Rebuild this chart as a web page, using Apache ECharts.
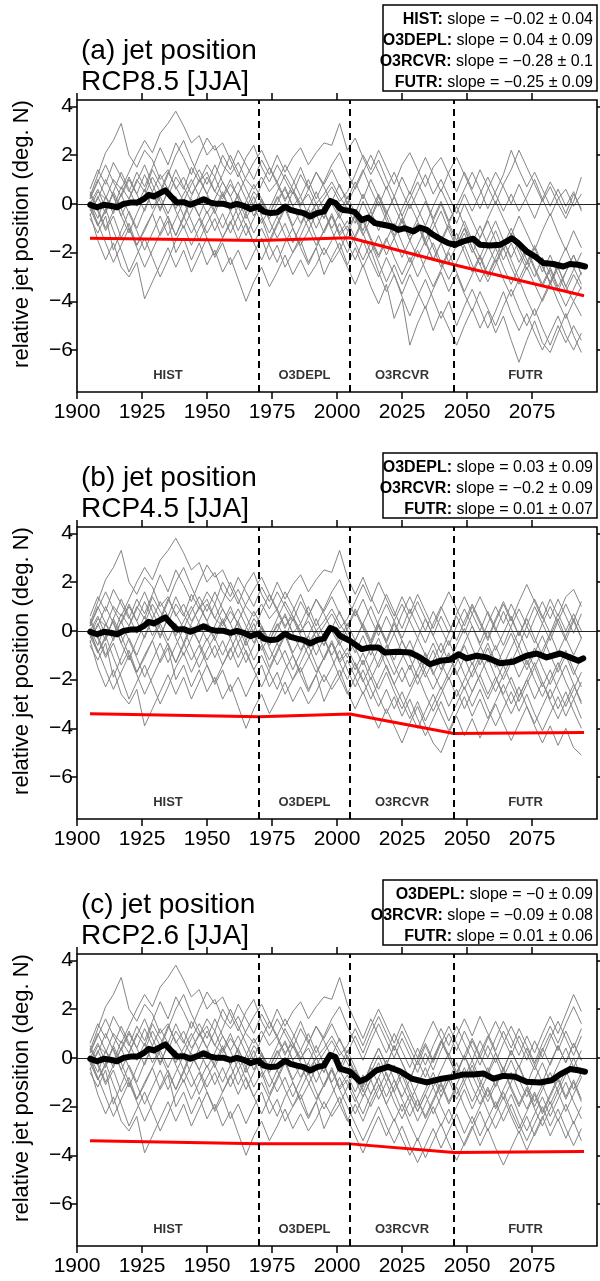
<!DOCTYPE html>
<html>
<head>
<meta charset="utf-8">
<script src="https://cdn.jsdelivr.net/npm/echarts@6/dist/echarts.min.js"></script>
<style>
  html, body { margin: 0; padding: 0; background: #fff; }
  #chart { width: 600px; height: 1281px; }
</style>
</head>
<body>
<div id="chart"></div>
<script>
// years of the ensemble members (3-yearly samples)
const histYears = [1905, 1908, 1911, 1914, 1917, 1920, 1923, 1926, 1929, 1932, 1935, 1938, 1941, 1944, 1947, 1950, 1953,
  1956, 1959, 1962, 1965, 1968, 1971, 1974, 1977, 1980, 1983, 1986, 1989, 1992, 1995, 1998, 2001, 2004]
const futYears = [2007, 2010, 2013, 2016, 2019, 2022, 2025, 2028, 2031, 2034, 2037, 2040, 2043, 2046, 2049, 2052, 2055,
  2058, 2061, 2064, 2067, 2070, 2073, 2076, 2079, 2082, 2085, 2088, 2091, 2094]

// historical part of each member (same in all three scenarios)
const histRuns = [
  [0.3, 1.2, 2.1, 2.6, 3.3, 2.0, 1.5, 2.2, 1.8, 1.0, 1.4, 0.6, 1.1, 0.4, 0.9, 1.3, 0.5, 0.2, 0.8, 0.3, -0.2, 0.5, 0.1, -0.4, 0.2, 0.6, -0.1, 0.3, -0.5, 0.0, 0.4, 0.9, 0.3, -0.2],
  [-0.2, 0.5, 0.2, 1.0, 0.6, 1.3, 2.0, 2.6, 2.1, 2.9, 3.3, 3.8, 3.2, 2.5, 2.8, 2.0, 2.4, 1.6, 1.2, 1.7, 1.0, 0.6, 1.1, 0.5, 0.9, 0.2, 0.6, 0.0, 0.4, -0.3, 0.2, 0.7, 0.1, 0.5],
  [0.1, -0.6, 0.3, -0.2, 0.7, 0.2, 1.0, 0.5, 1.4, 0.8, 0.3, 1.1, 0.6, 1.5, 0.9, 1.6, 1.1, 2.0, 1.4, 2.2, 1.6, 1.0, 1.8, 1.2, 2.0, 1.3, 1.9, 2.3, 1.6, 2.1, 2.5, 2.4, 3.3, 2.2],
  [-0.4, -1.5, -2.3, -1.6, -2.6, -3.0, -2.4, -3.9, -3.2, -2.5, -1.8, -2.6, -1.9, -2.8, -2.1, -1.4, -2.2, -1.6, -2.5, -1.9, -2.7, -2.0, -1.4, -2.3, -1.7, -2.6, -2.0, -1.5, -2.4, -1.8, -2.9, -2.2, -1.6, -2.5],
  [0.4, -0.3, -1.1, -0.5, -1.4, -0.8, -1.7, -1.0, -0.4, -1.3, -0.7, -2.0, -1.4, -2.3, -1.6, -2.5, -1.9, -2.8, -2.2, -3.1, -4.0, -3.2, -2.6, -3.4, -2.8, -2.1, -2.9, -2.3, -3.0, -2.5, -1.8, -2.4, -1.9, -2.6],
  [0.6, 1.4, 0.8, 1.7, 1.1, 0.5, 1.3, 0.7, 1.5, 2.3, 1.6, 2.5, 1.9, 1.2, 2.0, 2.7, 2.2, 2.5, 1.8, 1.1, 1.9, 2.4, 1.5, 0.9, 1.6, 1.0, 0.4, 1.2, 0.6, 1.3, 0.8, 1.4, 0.7, 0.2],
  [-0.6, -1.2, -0.5, -1.9, -1.1, -0.3, -1.0, -0.2, 0.5, -0.3, 0.6, 1.4, 0.7, 0.1, -0.5, 0.3, -0.4, 0.4, -0.3, -1.1, -0.4, -1.2, -0.6, -1.5, -0.8, -0.1, -0.9, -0.3, -1.0, -1.7, -1.1, -0.4, -1.2, -0.7],
  [0.2, 0.9, 1.6, 0.9, 0.3, 1.0, 0.4, -0.3, 0.5, 1.2, 0.6, -0.2, 0.4, 1.0, 0.3, -0.4, 0.2, 0.9, 0.3, -0.5, 0.1, 0.8, 0.2, -0.6, 0.0, 0.7, -0.1, -0.8, -0.2, 0.5, -0.3, -1.0, -0.4, 0.3],
  [-0.1, -0.8, -1.6, -2.4, -1.7, -1.0, -1.8, -2.6, -1.9, -1.2, -0.5, -1.3, -0.6, 0.2, -0.5, -1.2, -0.6, -1.4, -0.8, -0.1, -0.9, -1.6, -1.0, -1.7, -2.4, -1.6, -1.0, -1.8, -2.5, -1.8, -1.1, -0.5, -1.3, -0.9],
  [0.0, 0.6, -0.2, 0.4, -0.5, -1.2, -0.4, 0.3, 1.1, 0.5, 1.3, 0.7, 0.1, 0.8, 1.4, 0.8, 1.6, 0.9, 0.3, 0.9, 0.2, -0.5, 0.2, -0.4, 0.3, -0.3, 0.5, -0.2, -0.7, 0.0, -0.6, 0.2, -0.5, -1.1],
  [-0.3, 0.2, 1.0, 0.3, -0.5, 0.2, 0.9, 1.6, 0.8, 0.1, -0.6, -1.3, -0.5, 0.3, 1.0, 0.4, -0.3, -1.0, -0.3, 0.4, 1.1, 1.7, 2.2, 1.5, 0.8, 0.1, 0.8, 1.5, 0.7, 0.0, -0.6, 0.1, 0.8, 0.0],
  [0.5, -0.2, -1.0, -0.3, 0.4, -0.4, -1.1, -1.9, -1.2, -0.5, -1.3, -0.6, 0.1, -0.7, -1.5, -0.8, -0.2, 0.5, -0.3, 0.4, -0.4, 0.3, -0.5, -1.2, -0.5, -1.3, -2.0, -1.3, -0.6, -1.4, -2.1, -1.5, -0.8, -1.6],
  [-0.5, 0.3, -0.4, 0.5, 1.3, 0.6, -0.1, 0.6, -0.2, 0.4, 1.2, 2.0, 2.6, 1.8, 1.1, 0.4, 1.1, 0.3, 1.0, 0.2, -0.6, 0.0, 0.8, 1.5, 0.9, 1.6, 1.0, 0.3, 1.0, 0.2, 0.9, 1.6, 2.1, 1.3],
  [0.1, -0.9, -0.2, -1.1, -1.9, -2.8, -2.1, -1.4, -2.2, -3.0, -2.3, -1.5, -0.9, -1.7, -1.0, -0.3, -1.1, -0.4, -1.2, -0.5, -1.3, -0.6, 0.1, -0.7, -1.4, -0.8, -1.6, -0.9, -0.2, -1.0, -0.3, -1.1, -1.9, -1.2],
  [0.2, 1.0, 0.3, -0.4, 0.4, 1.1, 0.4, 1.2, 0.5, -0.2, 0.5, -0.3, -1.0, -0.3, 0.4, 1.1, 0.5, 1.2, 2.0, 1.3, 0.6, -0.1, -0.8, -0.2, 0.5, 1.2, 0.6, -0.1, 0.6, 1.3, 0.7, 0.0, -0.6, 0.1],
  [-0.2, -0.9, -0.3, 0.5, -0.2, -1.0, -1.7, -1.1, -0.4, 0.3, -0.4, 0.3, -0.5, -1.2, -0.6, -1.4, -2.1, -1.4, -0.7, -1.5, -0.8, -1.6, -2.3, -1.6, -0.9, -0.2, -1.0, -1.7, -1.1, -0.4, -1.2, -0.5, -1.3, -2.0]
]

// future part of each member, one list per scenario
const rcp85Runs = [
  [-0.8, 0.1, -0.6, 0.3, -0.5, -1.3, -0.6, -1.5, -0.8, -1.7, -1.0, -0.3, -1.1, -1.8, -1.2, -2.0, -1.4, -0.7, -1.5, -2.3, -1.6, -2.4, -1.8, -2.6, -3.3, -2.6, -3.4, -2.8, -2.1, -2.9],
  [1.2, 2.0, 1.4, 2.2, 1.5, 0.8, 1.6, 2.1, 1.4, 0.7, 1.5, 1.9, 1.2, 0.5, 1.3, 0.6, 1.4, 0.7, 0.0, 0.8, 1.4, 2.2, 1.5, 0.8, 0.1, 0.7, 0.0, -0.6, 0.1, 1.1],
  [2.7, 1.9, 1.2, 1.8, 1.0, 0.3, 1.1, 0.4, 1.2, 1.9, 1.2, 0.5, 1.3, 1.9, 1.2, 0.5, -0.2, 0.6, 1.3, 0.7, 0.0, 0.8, 0.1, -0.6, 0.2, 0.9, 0.3, -0.4, 0.4, -0.2],
  [-1.8, -2.6, -1.9, -2.8, -3.6, -2.9, -3.8, -4.6, -3.8, -3.1, -3.9, -4.7, -4.0, -5.0, -4.2, -3.5, -4.3, -5.1, -4.4, -3.6, -4.5, -5.2, -4.5, -5.3, -6.0, -5.3, -4.6, -5.4, -6.0, -5.3],
  [-3.3, -2.5, -3.4, -4.1, -3.3, -4.7, -3.9, -5.8, -4.9, -4.2, -5.2, -4.4, -5.1, -5.8, -5.0, -4.3, -5.1, -4.4, -5.3, -4.6, -5.6, -6.5, -5.6, -4.8, -5.7, -6.1, -5.3, -4.5, -5.4, -6.1],
  [0.9, 0.2, 1.0, 0.3, -0.4, 0.3, -0.5, 0.2, 0.9, 0.2, -0.6, 0.1, -0.7, -0.1, 0.6, 1.3, 0.6, -0.2, 0.5, 1.2, 2.2, 1.4, 0.7, 1.3, 0.6, -0.1, 0.6, -0.1, 0.5, -0.3],
  [-1.4, -0.7, -1.5, -2.2, -1.5, -0.8, -1.6, -2.4, -1.7, -1.0, -1.8, -2.6, -1.9, -1.2, -2.0, -2.8, -2.1, -2.9, -2.2, -1.5, -2.3, -3.1, -2.4, -1.7, -2.5, -3.3, -2.6, -3.4, -2.7, -2.0],
  [-0.4, 0.4, -0.3, -1.1, -0.4, 0.3, -0.5, -1.3, -0.6, 0.1, -0.7, -1.5, -0.8, -0.1, -0.9, -1.6, -0.9, -1.7, -2.4, -1.7, -1.0, -1.8, -2.5, -1.8, -2.6, -3.2, -2.5, -1.8, -2.6, -3.3],
  [-1.6, -2.3, -1.6, -2.4, -3.2, -2.5, -3.3, -2.6, -1.9, -2.7, -3.4, -2.7, -2.0, -2.8, -3.6, -2.9, -2.2, -3.0, -2.3, -3.1, -3.8, -3.1, -3.9, -4.6, -3.9, -3.2, -4.0, -4.7, -4.0, -4.6],
  [-0.4, -1.1, -0.3, 0.4, -0.3, -1.0, -0.2, 0.5, -0.2, -0.9, -0.1, 0.6, -0.1, -0.8, 0.0, -0.7, -1.4, -0.6, 0.1, -0.6, -1.3, -0.5, -1.2, -1.9, -1.1, -0.4, -1.2, -1.9, -1.1, -1.8],
  [0.7, 1.4, 0.6, -0.1, 0.7, -0.1, -0.8, 0.0, -0.7, -1.5, -0.7, 0.0, -0.8, -1.5, -0.7, -1.5, -2.2, -1.4, -0.7, -1.5, -2.2, -1.5, -2.3, -3.0, -2.2, -2.9, -3.6, -2.8, -2.1, -2.9],
  [-2.3, -1.5, -2.3, -3.0, -2.2, -2.9, -3.7, -2.9, -3.6, -4.3, -3.5, -2.8, -3.6, -2.9, -3.7, -4.4, -3.6, -4.3, -5.0, -4.2, -3.5, -4.3, -5.0, -4.3, -5.1, -5.8, -5.0, -5.7, -5.0, -5.6],
  [0.6, 1.3, 2.0, 1.3, 0.6, 1.3, 0.5, -0.2, 0.5, 1.2, 0.4, 1.0, 0.3, -0.4, 0.4, -0.3, 0.4, 1.1, 0.4, -0.3, 0.4, -0.3, 0.3, 1.0, 0.2, -0.5, 0.2, 0.6, -0.1, 0.4],
  [-0.5, -1.2, -2.0, -1.3, -2.1, -1.4, -0.7, -1.5, -2.2, -1.5, -2.3, -1.6, -0.9, -1.7, -1.0, -1.8, -2.5, -1.8, -1.1, -1.9, -1.2, -2.0, -2.7, -2.0, -2.8, -2.1, -2.9, -3.6, -2.9, -3.5],
  [-0.6, -1.3, -0.6, 0.1, -0.7, -1.4, -2.2, -1.5, -0.8, -1.6, -2.3, -1.6, -2.4, -1.7, -1.0, -1.8, -2.5, -3.2, -2.5, -1.8, -2.6, -3.3, -2.6, -3.3, -4.0, -3.3, -2.6, -3.4, -4.0, -3.4],
  [-1.3, -0.6, -1.4, -2.1, -1.4, -2.2, -2.9, -2.2, -3.0, -2.3, -1.6, -2.4, -3.1, -2.4, -1.7, -2.5, -3.2, -2.5, -1.8, -2.6, -3.3, -2.6, -1.9, -2.7, -3.4, -2.7, -3.5, -4.2, -3.5, -2.8]
]
const rcp45Runs = [
  [-0.9, -0.2, -1.0, -0.3, -1.1, -1.8, -1.1, -0.4, -1.2, -1.9, -1.2, -0.5, -1.3, -0.6, 0.1, -0.7, -1.4, -0.7, -1.5, -0.8, -0.1, -0.9, -1.6, -0.9, -0.2, -1.0, -1.7, -1.0, -1.8, -1.1],
  [1.2, 1.9, 1.2, 2.0, 1.3, 0.6, 1.4, 0.7, 1.5, 0.8, 0.1, 0.9, 1.6, 0.9, 0.2, 1.0, 0.3, -0.4, 0.4, 1.1, 0.4, 1.2, 1.9, 1.2, 0.5, 1.3, 0.6, 1.4, 1.7, 1.0],
  [1.5, 2.2, 1.4, 0.7, 1.5, 0.8, 0.1, 0.9, 0.2, -0.5, 0.3, 1.0, 0.3, -0.4, 0.4, 1.1, 0.4, -0.3, 0.5, 1.2, 0.5, -0.2, 0.6, 1.3, 0.6, -0.1, 0.7, 0.0, 0.7, 0.0],
  [-3.2, -2.5, -3.3, -4.0, -3.2, -3.9, -4.6, -3.8, -3.1, -3.9, -4.6, -5.0, -4.2, -3.5, -4.3, -3.6, -4.4, -3.7, -3.0, -3.8, -4.5, -3.8, -3.1, -3.9, -4.6, -3.9, -4.7, -4.0, -4.8, -5.1],
  [-1.9, -2.6, -1.9, -2.7, -3.4, -2.7, -3.5, -2.8, -3.6, -4.3, -3.6, -2.9, -3.7, -3.0, -2.3, -3.1, -2.4, -3.2, -3.9, -3.2, -2.5, -3.3, -2.6, -3.4, -4.1, -3.4, -2.7, -3.5, -2.8, -3.6],
  [0.9, 0.2, -0.5, 0.3, -0.4, 0.4, 1.1, 0.4, -0.3, 0.5, -0.2, -0.9, -0.1, 0.6, -0.1, 0.7, 1.4, 0.7, 0.0, 0.8, 0.1, -0.6, 0.2, -0.5, 0.3, 1.0, 0.3, -0.4, 0.4, -0.3],
  [-1.4, -2.1, -1.4, -0.7, -1.5, -2.2, -1.5, -2.3, -1.6, -0.9, -1.7, -2.4, -1.7, -1.0, -1.8, -2.5, -1.8, -1.1, -1.9, -2.6, -1.9, -2.7, -2.0, -1.3, -2.1, -2.8, -2.1, -1.4, -2.2, -2.9],
  [-0.4, 0.3, 1.0, 0.2, -0.5, 0.3, -0.4, -1.1, -0.3, -1.0, -1.8, -1.1, -0.4, -1.2, -0.5, 0.2, -0.6, -1.3, -0.6, -1.4, -0.7, 0.0, -0.8, -1.5, -0.8, -0.1, -0.9, -0.2, 0.5, -0.3],
  [-1.6, -0.9, -1.7, -2.4, -1.7, -2.5, -3.2, -2.5, -1.8, -2.6, -3.3, -2.6, -1.9, -2.7, -2.0, -1.3, -2.1, -2.8, -2.1, -1.4, -2.2, -2.9, -2.2, -1.5, -2.3, -1.6, -2.4, -3.1, -2.4, -1.7],
  [-0.4, 0.3, -0.4, 0.4, 1.1, 0.4, -0.3, 0.5, 1.2, 0.5, -0.2, 0.6, -0.1, 0.7, 1.4, 0.7, 0.0, 0.8, 0.1, -0.6, 0.2, 0.9, 0.2, 1.0, 0.3, -0.4, 0.4, 1.1, 0.4, 1.2],
  [-0.7, -1.4, -0.7, -1.5, -0.8, -0.1, -0.9, -1.6, -0.9, -1.7, -2.4, -1.7, -1.0, -1.8, -1.1, -1.9, -1.2, -0.5, -1.3, -2.0, -1.3, -0.6, -1.4, -0.7, -1.5, -2.2, -1.5, -0.8, -1.6, -2.3],
  [-2.3, -1.6, -2.4, -3.1, -2.4, -3.2, -2.5, -3.3, -4.0, -3.3, -2.6, -3.4, -4.1, -3.4, -2.7, -3.5, -2.8, -3.6, -2.9, -2.2, -3.0, -2.3, -3.1, -3.8, -3.1, -2.4, -3.2, -2.5, -3.3, -4.0],
  [0.6, 1.3, 0.5, -0.2, 0.6, -0.1, 0.7, 1.4, 0.7, 0.0, 0.8, 0.1, -0.6, 0.2, 0.9, 0.2, -0.5, 0.3, 1.0, 0.3, 1.1, 0.4, -0.3, 0.5, 1.2, 0.5, 1.3, 0.6, -0.1, 0.7],
  [-1.9, -1.2, -2.0, -1.3, -0.6, -1.4, -2.1, -1.4, -2.2, -1.5, -0.8, -1.6, -0.9, -1.7, -2.4, -1.7, -1.0, -1.8, -2.5, -1.8, -1.1, -1.9, -1.2, -2.0, -2.7, -2.0, -1.3, -2.1, -2.8, -2.1],
  [0.8, 0.1, -0.6, 0.2, -0.5, -1.2, -0.4, -1.1, -1.9, -1.2, -0.5, -1.3, -2.0, -1.3, -0.6, -1.4, -0.7, 0.0, -0.8, -0.1, 0.6, -0.2, 0.5, -0.3, -1.0, -0.2, 0.5, -0.3, -1.0, -0.3],
  [-1.3, -2.0, -2.8, -2.1, -1.4, -2.2, -2.9, -3.6, -2.9, -3.7, -3.0, -2.3, -3.1, -2.4, -3.2, -2.5, -1.8, -2.6, -1.9, -2.7, -3.4, -2.7, -2.0, -2.8, -2.1, -2.9, -3.6, -2.9, -2.2, -3.0]
]
const rcp26Runs = [
  [-0.9, -1.6, -0.9, -0.2, -1.0, -0.3, -1.1, -1.8, -1.1, -0.4, -1.2, -0.5, 0.2, -0.6, 0.1, -0.7, -1.4, -0.7, 0.0, -0.8, -0.1, -0.9, -1.6, -0.9, -0.2, -1.0, -0.3, 0.4, -0.4, 0.3],
  [1.2, 0.5, 1.3, 2.0, 1.3, 0.6, 1.4, 0.7, 0.0, 0.8, 1.5, 0.8, 0.1, 0.9, 1.6, 0.9, 1.7, 1.0, 0.3, 1.1, 0.4, 1.2, 0.5, -0.2, 0.6, 1.3, 0.6, 1.4, 2.1, 1.4],
  [1.5, 0.8, 1.6, 0.9, 0.2, 1.0, 0.3, -0.4, 0.4, -0.3, 0.5, 1.2, 0.5, 1.3, 0.6, -0.1, 0.7, 0.0, 0.8, 1.5, 0.8, 0.1, 0.9, 0.2, 1.0, 1.7, 1.0, 1.8, 2.6, 1.9],
  [-3.2, -3.9, -3.1, -2.4, -3.2, -2.5, -3.3, -4.0, -3.3, -4.1, -3.4, -2.7, -3.5, -4.2, -3.5, -2.8, -3.6, -2.9, -3.7, -4.4, -3.7, -3.0, -3.8, -3.1, -2.4, -3.2, -2.5, -3.3, -2.6, -3.4],
  [-1.9, -2.6, -1.8, -1.1, -1.9, -2.6, -1.9, -2.7, -3.4, -2.7, -2.0, -2.8, -2.1, -2.9, -3.6, -2.9, -2.2, -3.0, -2.3, -1.6, -2.4, -3.1, -2.4, -3.2, -2.5, -1.8, -2.6, -1.9, -2.7, -2.0],
  [0.9, 0.2, 1.0, 1.7, 1.0, 0.3, 1.1, 0.4, -0.3, 0.5, -0.2, 0.6, 1.3, 0.6, -0.1, 0.7, 0.0, 0.8, 1.5, 0.8, 0.1, 0.9, 0.2, -0.5, 0.3, 1.0, 0.3, 1.1, 0.4, 1.2],
  [-1.4, -0.7, -1.5, -0.8, -0.1, -0.9, -1.6, -0.9, -1.7, -2.4, -1.7, -1.0, -1.8, -1.1, -0.4, -1.2, -1.9, -1.2, -2.0, -1.3, -0.6, -1.4, -2.1, -1.4, -2.2, -1.5, -0.8, -1.6, -0.9, -1.7],
  [-0.4, -1.1, -0.3, 0.4, -0.3, 0.5, -0.2, -0.9, -0.1, -0.8, 0.0, 0.7, 0.0, -0.7, 0.1, -0.6, 0.2, 0.9, 0.2, -0.5, 0.3, -0.4, -1.1, -0.3, 0.4, -0.3, 0.5, -0.2, 0.6, -0.1],
  [-1.6, -2.3, -1.5, -0.8, -1.6, -0.9, -1.7, -2.4, -1.7, -2.5, -1.8, -1.1, -1.9, -1.2, -2.0, -2.7, -2.0, -1.3, -2.1, -1.4, -2.2, -2.9, -2.2, -1.5, -2.3, -1.6, -0.9, -1.7, -1.0, -1.8],
  [-1.8, -1.1, -0.3, 0.4, -0.3, 0.5, -0.2, -0.9, -0.1, 0.6, -0.1, 0.7, 0.0, -0.7, 0.1, 0.8, 0.1, -0.6, 0.2, -0.5, 0.3, -0.4, 0.4, -0.3, -1.0, -0.2, 0.5, -0.2, 0.6, -0.1],
  [-0.7, -1.4, -0.6, 0.1, -0.7, -1.4, -2.2, -1.5, -2.2, -1.5, -0.8, -1.6, -0.9, -0.2, -1.0, -0.3, -1.1, -1.8, -1.1, -0.4, -1.2, -1.9, -1.2, -2.0, -1.3, -0.6, -1.4, -0.7, 0.0, -0.8],
  [-2.3, -1.6, -0.9, -1.7, -1.0, -1.8, -2.5, -1.8, -2.6, -1.9, -1.2, -2.0, -2.7, -2.0, -1.3, -2.1, -1.4, -2.2, -2.9, -2.2, -1.5, -2.3, -3.0, -2.3, -1.6, -2.4, -1.7, -1.0, -1.8, -2.5],
  [0.6, -0.1, 0.7, 1.4, 0.7, 0.0, 0.8, 0.1, -0.6, 0.2, -0.5, 0.3, 1.0, 0.3, 1.1, 0.4, -0.3, 0.5, -0.2, 0.6, 1.3, 0.6, -0.1, 0.7, 0.0, 0.8, 1.5, 0.8, 0.1, 0.9],
  [-0.5, -1.2, -0.4, -1.1, -1.9, -1.2, -0.5, -1.3, -2.0, -1.3, -0.6, -1.4, -0.7, -1.5, -0.8, -0.1, -0.9, -1.6, -0.9, -1.7, -1.0, -0.3, -1.1, -1.8, -1.1, -1.9, -1.2, -0.5, -1.3, -0.6],
  [-0.6, -1.3, -2.0, -1.3, -0.6, -1.4, -0.7, -1.5, -2.2, -1.5, -2.3, -1.6, -0.9, -1.7, -1.0, -1.8, -1.1, -0.4, -1.2, -0.5, -1.3, -2.0, -1.3, -2.1, -2.8, -2.1, -1.4, -2.2, -1.5, -0.8],
  [-2.7, -3.4, -2.7, -2.0, -2.8, -3.5, -2.8, -3.6, -4.3, -3.6, -2.9, -3.7, -3.0, -2.3, -3.1, -2.4, -3.2, -2.5, -1.8, -2.6, -1.9, -2.7, -3.4, -2.7, -2.0, -2.8, -2.1, -2.9, -3.6, -2.9]
]

// multi-model mean [year, value]
const meanHist = [[1905.1, -0.04], [1907.7, -0.14], [1910.3, -0.04], [1912.8, -0.08], [1915.4, -0.14], [1917.9, 0.0],
  [1920.5, 0.05], [1923.1, 0.05], [1925.6, 0.19], [1927.6, 0.37], [1929.5, 0.3], [1931.4, 0.41], [1934.0, 0.55],
  [1935.9, 0.33], [1938.5, 0.05], [1941.0, 0.07], [1943.6, -0.04], [1946.2, 0.07], [1948.7, 0.19], [1951.3, 0.05],
  [1953.8, 0.0], [1956.4, 0.0], [1959.0, -0.08], [1961.5, 0.0], [1964.1, -0.08], [1966.7, -0.22], [1969.9, -0.11],
  [1971.8, -0.32], [1974.4, -0.38], [1976.9, -0.36], [1980.1, -0.11], [1982.1, -0.25], [1984.6, -0.32], [1987.2, -0.38],
  [1989.7, -0.52], [1992.3, -0.38], [1994.9, -0.32], [1997.4, 0.12], [1999.4, 0.03]]
const meanRcp85 = [[2001.3, -0.2], [2002.4, -0.25], [2005.0, -0.29], [2006.9, -0.34], [2009.5, -0.66], [2012.0, -0.56],
  [2014.6, -0.79], [2017.8, -0.86], [2021.0, -0.93], [2023.6, -1.07], [2026.1, -1.0], [2029.4, -1.13], [2031.9, -0.97],
  [2034.5, -1.07], [2037.0, -1.27], [2040.3, -1.48], [2042.8, -1.61], [2045.4, -1.68], [2048.6, -1.54], [2052.4, -1.43],
  [2055.0, -1.68], [2058.8, -1.71], [2062.7, -1.68], [2065.2, -1.54], [2067.2, -1.41], [2069.7, -1.61], [2072.9, -1.95],
  [2076.1, -2.16], [2079.4, -2.43], [2083.2, -2.47], [2087.0, -2.57], [2089.6, -2.47], [2092.8, -2.5], [2095.4, -2.57]]
const meanRcp45 = [[2001.1, -0.2], [2005.0, -0.41], [2009.5, -0.75], [2012.7, -0.68], [2015.9, -0.68], [2018.5, -0.89],
  [2022.9, -0.86], [2028.1, -0.89], [2031.9, -1.09], [2035.8, -1.37], [2039.6, -1.23], [2043.5, -1.19], [2046.7, -0.96],
  [2049.9, -1.13], [2053.7, -1.02], [2057.6, -1.09], [2062.7, -1.33], [2067.8, -1.27], [2072.9, -1.02], [2076.8, -0.93],
  [2080.6, -1.09], [2085.8, -0.93], [2089.6, -1.09], [2092.8, -1.23], [2094.7, -1.13]]
const meanRcp26 = [[2001.1, -0.44], [2005.0, -0.57], [2008.8, -0.96], [2011.4, -0.85], [2015.2, -0.51], [2019.7, -0.37],
  [2024.2, -0.55], [2028.7, -0.85], [2034.5, -1.01], [2039.6, -0.87], [2044.7, -0.78], [2048.6, -0.68], [2052.4, -0.68],
  [2056.3, -0.64], [2060.1, -0.85], [2064.0, -0.74], [2068.5, -0.78], [2072.9, -0.98], [2078.1, -1.01], [2082.6, -0.92],
  [2085.8, -0.68], [2089.6, -0.46], [2092.8, -0.51], [2095.4, -0.57]]

// piecewise linear trend (red)
const trendYears = [1905, 1970, 2005, 2045, 2095]
const trendRcp85 = [-1.41, -1.5, -1.39, -2.5, -3.77]
const trendRcp45 = [-3.4, -3.52, -3.41, -4.21, -4.17]
const trendRcp26 = [-3.4, -3.52, -3.53, -3.88, -3.84]

// period boundaries and names
const periodEdges = [1900, 1970, 2005, 2045, 2100]
const periodNames = ['HIST', 'O3DEPL', 'O3RCVR', 'FUTR']

const slopes85 = [['HIST', '−0.02 ± 0.04'], ['O3DEPL', '0.04 ± 0.09'], ['O3RCVR', '−0.28 ± 0.1'], ['FUTR', '−0.25 ± 0.09']]
const slopes45 = [['O3DEPL', '0.03 ± 0.09'], ['O3RCVR', '−0.2 ± 0.09'], ['FUTR', '0.01 ± 0.07']]
const slopes26 = [['O3DEPL', '−0 ± 0.09'], ['O3RCVR', '−0.09 ± 0.08'], ['FUTR', '0.01 ± 0.06']]

const xTicks = [1900, 1925, 1950, 1975, 2000, 2025, 2050, 2075]
const yTicks = [-6, -4, -2, 0, 2, 4]

const panels = [
  { title: '(a) jet position\nRCP8.5 [JJA]', runs: rcp85Runs, mean: meanRcp85, trend: trendRcp85, slopes: slopes85 },
  { title: '(b) jet position\nRCP4.5 [JJA]', runs: rcp45Runs, mean: meanRcp45, trend: trendRcp45, slopes: slopes45 },
  { title: '(c) jet position\nRCP2.6 [JJA]', runs: rcp26Runs, mean: meanRcp26, trend: trendRcp26, slopes: slopes26 }
]

const FONT = "'Liberation Sans', Arial, Helvetica, sans-serif"
const panelTops = [100, 527, 954]
const plotLeft = 77
const plotW = 520
const plotH = 292

const minus = v => (v < 0 ? '−' + Math.abs(v) : String(v))

let grids = []
let xAxes = []
let yAxes = []
let series = []
let titles = []
let graphics = []

panels.forEach((p, i) => {
  let top = panelTops[i]
  grids.push({ left: plotLeft, top: top, width: plotW, height: plotH, show: true, borderColor: '#000', borderWidth: 1.6 })
  let tickStyle = { show: true, length: 7, lineStyle: { color: '#000', width: 1.5 } }
  let hiddenLine = { show: false, onZero: false }
  xAxes.push({
    gridIndex: i, type: 'value', min: 1900, max: 2100, position: 'bottom',
    axisLine: hiddenLine, splitLine: { show: false },
    axisTick: Object.assign({ customValues: xTicks }, tickStyle),
    axisLabel: { customValues: xTicks, fontSize: 21, color: '#000', fontFamily: FONT, margin: 10, formatter: v => String(v) }
  })
  xAxes.push({
    gridIndex: i, type: 'value', min: 1900, max: 2100, position: 'top',
    axisLine: hiddenLine, splitLine: { show: false },
    axisTick: Object.assign({ customValues: xTicks }, tickStyle),
    axisLabel: { show: false }
  })
  yAxes.push({
    gridIndex: i, type: 'value', min: -7.72, max: 4.26, position: 'left',
    axisLine: hiddenLine, splitLine: { show: false },
    axisTick: Object.assign({ customValues: yTicks }, tickStyle),
    axisLabel: { customValues: yTicks, fontSize: 21, color: '#000', fontFamily: FONT, margin: 4, formatter: minus }
  })
  yAxes.push({
    gridIndex: i, type: 'value', min: -7.72, max: 4.26, position: 'right',
    axisLine: hiddenLine, splitLine: { show: false },
    axisTick: Object.assign({ customValues: yTicks }, tickStyle),
    axisLabel: { show: false }
  })

  let xi = i * 2
  let yi = i * 2

  // ensemble members
  histRuns.forEach((h, m) => {
    let data = histYears.map((yr, k) => [yr, h[k]])
      .concat(futYears.map((yr, k) => [yr, p.runs[m][k]]))
    series.push({
      type: 'line', xAxisIndex: xi, yAxisIndex: yi, data: data, showSymbol: false, symbol: 'none',
      lineStyle: { color: '#858585', width: 1 }, z: 2, silent: true
    })
  })

  // period labels + dashed separators + zero line
  series.push({
    type: 'scatter', xAxisIndex: xi, yAxisIndex: yi, symbolSize: 0, z: 3, silent: true,
    data: periodNames.map((n, k) => ({ name: n, value: [(periodEdges[k] + periodEdges[k + 1]) / 2, -7.05] })),
    label: { show: true, position: 'inside', formatter: d => d.name, fontSize: 13, fontWeight: 'bold', color: '#000', fontFamily: FONT },
    markLine: {
      silent: true, symbol: ['none', 'none'], label: { show: false },
      lineStyle: { color: '#000', width: 2, type: [7, 5] },
      data: periodEdges.slice(1, 4).map(e => ({ xAxis: e }))
        .concat([{ yAxis: 0, lineStyle: { color: '#222', width: 1, type: 'solid' } }])
    }
  })

  // trend
  series.push({
    type: 'line', xAxisIndex: xi, yAxisIndex: yi, showSymbol: false, symbol: 'none', z: 4, silent: true,
    data: trendYears.map((yr, k) => [yr, p.trend[k]]),
    lineStyle: { color: '#ff0000', width: 3 }
  })

  // mean
  series.push({
    type: 'line', xAxisIndex: xi, yAxisIndex: yi, showSymbol: false, symbol: 'none', z: 5, silent: true,
    data: meanHist.concat(p.mean),
    lineStyle: { color: '#000', width: 6, join: 'round', cap: 'round' }
  })

  titles.push({
    text: p.title, left: plotLeft - 1, top: top - 69,
    textStyle: { fontSize: 28, fontWeight: 'normal', color: '#000', fontFamily: FONT, lineHeight: 31 }
  })

  // y axis title
  graphics.push({
    type: 'text', x: 22, y: top + 134, rotation: Math.PI / 2, z: 11,
    style: {
      text: 'relative jet position (deg. N)', align: 'center', verticalAlign: 'middle',
      fill: '#000', fontSize: 22, fontFamily: FONT
    }
  })

  // slope box
  let n = p.slopes.length
  let boxBottom = top - 9
  let boxH = 21 * n + 2
  graphics.push({
    type: 'rect', shape: { x: 383, y: boxBottom - boxH, width: 214, height: boxH },
    style: { fill: '#fff', stroke: '#000', lineWidth: 1.5 }, z: 10
  })
  p.slopes.forEach((s, k) => {
    graphics.push({
      type: 'text', x: 593, y: boxBottom - 8 - 21 * (n - 1 - k), z: 11,
      style: {
        text: '{b|' + s[0] + ':} slope = ' + s[1],
        align: 'right', verticalAlign: 'middle', fill: '#000', fontSize: 16, fontFamily: FONT,
        rich: { b: { fontWeight: 'bold', fontSize: 16, fontFamily: FONT, fill: '#000' } }
      }
    })
  })
})

const chart = echarts.init(document.getElementById('chart'), null, { renderer: 'canvas' })
chart.setOption({
  animation: false,
  backgroundColor: '#fff',
  title: titles,
  grid: grids,
  xAxis: xAxes,
  yAxis: yAxes,
  series: series,
  graphic: graphics
})
window.addEventListener('resize', () => chart.resize())
</script>
</body>
</html>
